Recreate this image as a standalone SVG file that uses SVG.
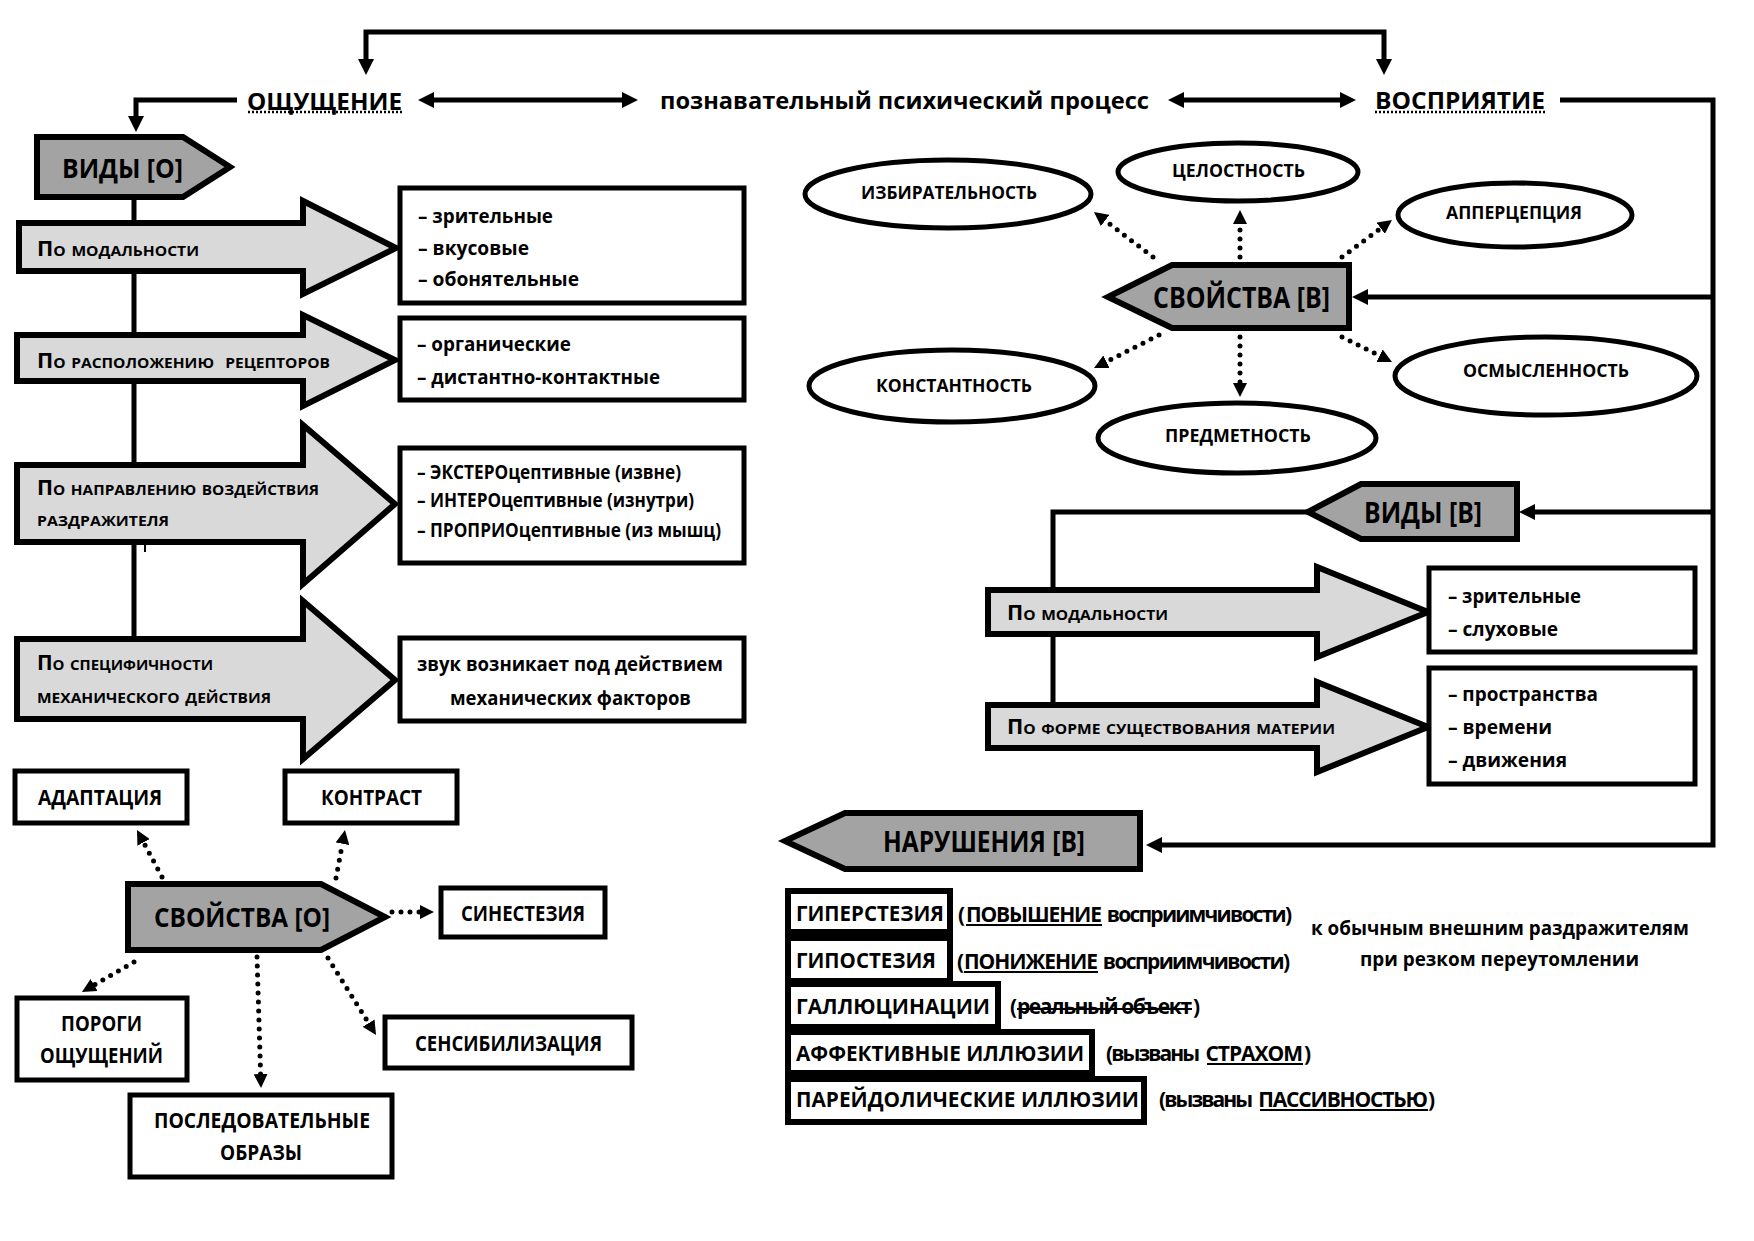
<svg xmlns="http://www.w3.org/2000/svg" width="1754" height="1241" viewBox="0 0 1754 1241">
<style>
.t{font-family:'Open Sans','Liberation Sans',sans-serif;font-weight:700;fill:#000;dominant-baseline:central}
.sc{font-variant:small-caps}
.box{fill:#fff;stroke:#000;stroke-width:5}
.box6{fill:#fff;stroke:#000;stroke-width:6}
.pent{fill:#a3a3a3;stroke:#000;stroke-width:6}
.barrow{fill:#d9d9d9;stroke:#000;stroke-width:6}
.ell{fill:#fff;stroke:#000;stroke-width:5}
.ln{fill:none;stroke:#000;stroke-width:5}
.dot{fill:none;stroke:#000;stroke-width:5;stroke-dasharray:0 9;stroke-linecap:round}
.ul{stroke:#000;stroke-width:2}
.dul{stroke:#000;stroke-width:2.5;stroke-dasharray:2 2}
</style>
<defs>
<marker id="ah" viewBox="0 0 16 16" refX="4" refY="8" markerWidth="16" markerHeight="16" markerUnits="userSpaceOnUse" orient="auto-start-reverse"><path d="M0,0 L16,8 L0,16 z" fill="#000"/></marker>
<marker id="dh" viewBox="0 0 14 14" refX="0" refY="7" markerWidth="14" markerHeight="14" markerUnits="userSpaceOnUse" orient="auto"><path d="M0,0 L14,7 L0,14 z" fill="#000"/></marker>
</defs>
<rect width="1754" height="1241" fill="#fff"/>

<g id="connectors">
<path class="ln" d="M366,63 V32 H1384 V63" marker-start="url(#ah)" marker-end="url(#ah)"/>
<path class="ln" d="M237,100 H136 V120" marker-end="url(#ah)"/>
<path class="ln" d="M430,100 H626" marker-start="url(#ah)" marker-end="url(#ah)"/>
<path class="ln" d="M1180,100 H1344" marker-start="url(#ah)" marker-end="url(#ah)"/>
<path class="ln" d="M1560,100 H1713 V845 H1158" marker-end="url(#ah)"/>
<path class="ln" d="M1713,297 H1364" marker-end="url(#ah)"/>
<path class="ln" d="M1713,512 H1531" marker-end="url(#ah)"/>
<path class="ln" d="M1308,512 H1053 V705"/>
<path class="ln" d="M134,198 V639"/>
<line x1="145" y1="543" x2="145" y2="552" stroke="#000" stroke-width="2"/>
<path class="dot" d="M162,877 L143.6,842.4" marker-end="url(#dh)"/>
<path class="dot" d="M336,878 L342.4,843.8" marker-end="url(#dh)"/>
<path class="dot" d="M392,912 L420,912" marker-end="url(#dh)"/>
<path class="dot" d="M134,962 L94.1,985" marker-end="url(#dh)"/>
<path class="dot" d="M257,957 L260.6,1074" marker-end="url(#dh)"/>
<path class="dot" d="M328,958 L368.6,1023.1" marker-end="url(#dh)"/>
<path class="dot" d="M1153,257 L1105.1,220.5" marker-end="url(#dh)"/>
<path class="dot" d="M1240,257 L1240,224" marker-end="url(#dh)"/>
<path class="dot" d="M1342,257 L1380.7,228.3" marker-end="url(#dh)"/>
<path class="dot" d="M1159,335 L1106.5,361.7" marker-end="url(#dh)"/>
<path class="dot" d="M1240,337 L1240,383" marker-end="url(#dh)"/>
<path class="dot" d="M1342,337 L1379.5,355.7" marker-end="url(#dh)"/>
</g>

<g id="oshchushchenie">
<text class="t" x="247" y="100" font-size="24" textLength="155" lengthAdjust="spacingAndGlyphs">ОЩУЩЕНИЕ</text>
<line class="dul" x1="248" y1="112" x2="402" y2="112"/>
</g>
<g id="process">
<text class="t" x="660" y="99" font-size="24" textLength="489" lengthAdjust="spacingAndGlyphs">познавательный психический процесс</text>
</g>
<g id="vospriyatie">
<text class="t" x="1375" y="99" font-size="24" textLength="170" lengthAdjust="spacingAndGlyphs">ВОСПРИЯТИЕ</text>
<line class="dul" x1="1375" y1="112" x2="1545" y2="112"/>
</g>

<g id="vidy-o">
<polygon class="pent" points="37,137 183,137 230,167 183,197 37,197"/>
<text class="t" x="62" y="168" font-size="26" textLength="121" lengthAdjust="spacingAndGlyphs">ВИДЫ [О]</text>
</g>

<g id="arrow-l1">
<polygon class="barrow" points="19,223 303,223 303,201 396,248 303,294 303,271 19,271"/>
<text class="t sc" x="37" y="248" font-size="21" textLength="162" lengthAdjust="spacingAndGlyphs">По модальности</text>
</g>
<g id="box-l1">
<rect class="box" x="400" y="188" width="344" height="115"/>
<text class="t" x="418" y="215" font-size="20" textLength="135" lengthAdjust="spacingAndGlyphs">– зрительные</text>
<text class="t" x="418" y="247" font-size="20" textLength="111" lengthAdjust="spacingAndGlyphs">– вкусовые</text>
<text class="t" x="418" y="278" font-size="20" textLength="161" lengthAdjust="spacingAndGlyphs">– обонятельные</text>
</g>

<g id="arrow-l2">
<polygon class="barrow" points="17,335 303,335 303,315 395,360 303,406 303,381 17,381"/>
<text class="t sc" x="37" y="360" font-size="21" textLength="293" lengthAdjust="spacingAndGlyphs" xml:space="preserve">По расположению  рецепторов</text>
</g>
<g id="box-l2">
<rect class="box" x="400" y="318" width="344" height="82"/>
<text class="t" x="417" y="343" font-size="20" textLength="154" lengthAdjust="spacingAndGlyphs">– органические</text>
<text class="t" x="417" y="376" font-size="20" textLength="243" lengthAdjust="spacingAndGlyphs">– дистантно-контактные</text>
</g>

<g id="arrow-l3">
<polygon class="barrow" points="17,465 303,465 303,425 395,504 303,584 303,542 17,542"/>
<text class="t sc" x="37" y="487" font-size="21" textLength="282" lengthAdjust="spacingAndGlyphs">По направлению воздействия</text>
<text class="t sc" x="37" y="518" font-size="21" textLength="132" lengthAdjust="spacingAndGlyphs">раздражителя</text>
</g>
<g id="box-l3">
<rect class="box" x="400" y="448" width="344" height="115"/>
<text class="t" x="417" y="472" font-size="19" textLength="264" lengthAdjust="spacingAndGlyphs">– ЭКСТЕРОцептивные (извне)</text>
<text class="t" x="417" y="500" font-size="19" textLength="277" lengthAdjust="spacingAndGlyphs">– ИНТЕРОцептивные (изнутри)</text>
<text class="t" x="417" y="530" font-size="19" textLength="304" lengthAdjust="spacingAndGlyphs">– ПРОПРИОцептивные (из мышц)</text>
</g>

<g id="arrow-l4">
<polygon class="barrow" points="17,639 303,639 303,601 395,680 303,759 303,719 17,719"/>
<text class="t sc" x="37" y="662" font-size="21" textLength="176" lengthAdjust="spacingAndGlyphs">По специфичности</text>
<text class="t sc" x="37" y="695" font-size="21" textLength="234" lengthAdjust="spacingAndGlyphs">механического действия</text>
</g>
<g id="box-l4">
<rect class="box" x="400" y="638" width="344" height="83"/>
<text class="t" x="417" y="663" font-size="20" textLength="306" lengthAdjust="spacingAndGlyphs">звук возникает под действием</text>
<text class="t" x="450" y="697" font-size="20" textLength="241" lengthAdjust="spacingAndGlyphs">механических факторов</text>
</g>

<g id="adaptaciya">
<rect class="box" x="15" y="771" width="172" height="52"/>
<text class="t" x="38" y="797" font-size="21" textLength="124" lengthAdjust="spacingAndGlyphs">АДАПТАЦИЯ</text>
</g>
<g id="kontrast">
<rect class="box" x="285" y="771" width="172" height="52"/>
<text class="t" x="321" y="797" font-size="21" textLength="101" lengthAdjust="spacingAndGlyphs">КОНТРАСТ</text>
</g>
<g id="svoistva-o">
<polygon class="pent" points="128,884 321,884 385,917 321,950 128,950"/>
<text class="t" x="154" y="917" font-size="26" textLength="176" lengthAdjust="spacingAndGlyphs">СВОЙСТВА [О]</text>
</g>
<g id="sinesteziya">
<rect class="box" x="441" y="888" width="164" height="49"/>
<text class="t" x="461" y="913" font-size="21" textLength="124" lengthAdjust="spacingAndGlyphs">СИНЕСТЕЗИЯ</text>
</g>
<g id="porogi">
<rect class="box" x="17" y="998" width="170" height="82"/>
<text class="t" x="61" y="1023" font-size="21" textLength="81" lengthAdjust="spacingAndGlyphs">ПОРОГИ</text>
<text class="t" x="40" y="1055" font-size="21" textLength="123" lengthAdjust="spacingAndGlyphs">ОЩУЩЕНИЙ</text>
</g>
<g id="posledovatelnye">
<rect class="box" x="130" y="1095" width="262" height="82"/>
<text class="t" x="154" y="1120" font-size="21" textLength="216" lengthAdjust="spacingAndGlyphs">ПОСЛЕДОВАТЕЛЬНЫЕ</text>
<text class="t" x="220" y="1152" font-size="21" textLength="82" lengthAdjust="spacingAndGlyphs">ОБРАЗЫ</text>
</g>
<g id="sensibilizaciya">
<rect class="box" x="385" y="1017" width="247" height="51"/>
<text class="t" x="415" y="1043" font-size="21" textLength="187" lengthAdjust="spacingAndGlyphs">СЕНСИБИЛИЗАЦИЯ</text>
</g>

<g id="svoistva-v">
<polygon class="pent" points="1108,297 1172,265 1349,265 1349,328 1172,328"/>
<text class="t" x="1153" y="296" font-size="29" textLength="177" lengthAdjust="spacingAndGlyphs">СВОЙСТВА [В]</text>
</g>
<g id="izbiratelnost">
<ellipse class="ell" cx="948" cy="194" rx="143" ry="34"/>
<text class="t" x="861" y="192" font-size="18" textLength="176" lengthAdjust="spacingAndGlyphs">ИЗБИРАТЕЛЬНОСТЬ</text>
</g>
<g id="celostnost">
<ellipse class="ell" cx="1238" cy="172" rx="120" ry="29"/>
<text class="t" x="1172" y="170" font-size="18" textLength="133" lengthAdjust="spacingAndGlyphs">ЦЕЛОСТНОСТЬ</text>
</g>
<g id="apercepciya">
<ellipse class="ell" cx="1515" cy="215" rx="117" ry="32"/>
<text class="t" x="1446" y="212" font-size="18" textLength="136" lengthAdjust="spacingAndGlyphs">АППЕРЦЕПЦИЯ</text>
</g>
<g id="konstantnost">
<ellipse class="ell" cx="952" cy="386" rx="143" ry="36"/>
<text class="t" x="876" y="385" font-size="18" textLength="156" lengthAdjust="spacingAndGlyphs">КОНСТАНТНОСТЬ</text>
</g>
<g id="predmetnost">
<ellipse class="ell" cx="1237" cy="438" rx="139" ry="35"/>
<text class="t" x="1165" y="435" font-size="18" textLength="146" lengthAdjust="spacingAndGlyphs">ПРЕДМЕТНОСТЬ</text>
</g>
<g id="osmyslennost">
<ellipse class="ell" cx="1546" cy="376" rx="151" ry="39"/>
<text class="t" x="1463" y="370" font-size="18" textLength="166" lengthAdjust="spacingAndGlyphs">ОСМЫСЛЕННОСТЬ</text>
</g>

<g id="vidy-v">
<polygon class="pent" points="1308,512 1361,484 1517,484 1517,539 1361,539"/>
<text class="t" x="1364" y="512" font-size="28" textLength="118" lengthAdjust="spacingAndGlyphs">ВИДЫ [В]</text>
</g>
<g id="arrow-r1">
<polygon class="barrow" points="988,590 1317,590 1317,567 1428,612 1317,657 1317,634 988,634"/>
<text class="t sc" x="1007" y="612" font-size="21" textLength="161" lengthAdjust="spacingAndGlyphs">По модальности</text>
</g>
<g id="box-r1">
<rect class="box" x="1429" y="568" width="266" height="84"/>
<text class="t" x="1448" y="595" font-size="20" textLength="133" lengthAdjust="spacingAndGlyphs">– зрительные</text>
<text class="t" x="1448" y="628" font-size="20" textLength="110" lengthAdjust="spacingAndGlyphs">– слуховые</text>
</g>
<g id="arrow-r2">
<polygon class="barrow" points="988,705 1317,705 1317,682 1428,727 1317,772 1317,748 988,748"/>
<text class="t sc" x="1007" y="726" font-size="21" textLength="328" lengthAdjust="spacingAndGlyphs">По форме существования материи</text>
</g>
<g id="box-r2">
<rect class="box" x="1429" y="668" width="266" height="116"/>
<text class="t" x="1448" y="693" font-size="20" textLength="150" lengthAdjust="spacingAndGlyphs">– пространства</text>
<text class="t" x="1448" y="726" font-size="20" textLength="104" lengthAdjust="spacingAndGlyphs">– времени</text>
<text class="t" x="1448" y="759" font-size="20" textLength="119" lengthAdjust="spacingAndGlyphs">– движения</text>
</g>

<g id="narusheniya-v">
<polygon class="pent" points="785,841 845,813 1140,813 1140,869 845,869"/>
<text class="t" x="883" y="841" font-size="28" textLength="202" lengthAdjust="spacingAndGlyphs">НАРУШЕНИЯ [В]</text>
</g>

<g id="giperesteziya">
<rect class="box6" x="788" y="891" width="162" height="41"/>
<text class="t" x="796" y="913" font-size="21" textLength="148" lengthAdjust="spacingAndGlyphs">ГИПЕРСТЕЗИЯ</text>
<text class="t" y="914" font-size="21" lengthAdjust="spacingAndGlyphs"><tspan x="958" textLength="7">(</tspan><tspan x="966" textLength="136">ПОВЫШЕНИЕ</tspan><tspan x="1103" textLength="189"> восприимчивости)</tspan></text>
<line class="ul" x1="966" y1="925" x2="1102" y2="925"/>
</g>
<g id="gipesteziya">
<rect class="box6" x="788" y="938" width="162" height="43"/>
<text class="t" x="796" y="960" font-size="21" textLength="140" lengthAdjust="spacingAndGlyphs">ГИПОСТЕЗИЯ</text>
<text class="t" y="961" font-size="21" lengthAdjust="spacingAndGlyphs"><tspan x="957" textLength="7">(</tspan><tspan x="964" textLength="134">ПОНИЖЕНИЕ</tspan><tspan x="1099" textLength="191"> восприимчивости)</tspan></text>
<line class="ul" x1="964" y1="972" x2="1098" y2="972"/>
</g>
<g id="gallyucinacii">
<rect class="box6" x="788" y="984" width="210" height="43"/>
<text class="t" x="796" y="1006" font-size="21" textLength="194" lengthAdjust="spacingAndGlyphs">ГАЛЛЮЦИНАЦИИ</text>
<text class="t" y="1006" font-size="21" lengthAdjust="spacingAndGlyphs"><tspan x="1010" textLength="6">(</tspan><tspan x="1017" textLength="175">реальный объект</tspan><tspan x="1193" textLength="6">)</tspan></text>
<line class="ul" x1="1017" y1="1009" x2="1192" y2="1009"/>
</g>
<g id="affektivnye">
<rect class="box6" x="788" y="1032" width="304" height="41"/>
<text class="t" x="796" y="1053" font-size="21" textLength="288" lengthAdjust="spacingAndGlyphs">АФФЕКТИВНЫЕ ИЛЛЮЗИИ</text>
<text class="t" y="1053" font-size="21" lengthAdjust="spacingAndGlyphs"><tspan x="1106" textLength="94">(вызваны</tspan><tspan x="1201" textLength="102"> СТРАХОМ</tspan><tspan x="1304" textLength="6">)</tspan></text>
<line class="ul" x1="1207" y1="1064" x2="1303" y2="1064"/>
</g>
<g id="pareidolicheskie">
<rect class="box6" x="788" y="1079" width="356" height="43"/>
<text class="t" x="796" y="1099" font-size="21" textLength="343" lengthAdjust="spacingAndGlyphs">ПАРЕЙДОЛИЧЕСКИЕ ИЛЛЮЗИИ</text>
<text class="t" y="1099" font-size="21" lengthAdjust="spacingAndGlyphs"><tspan x="1159" textLength="94">(вызваны</tspan><tspan x="1254" textLength="174"> ПАССИВНОСТЬЮ</tspan><tspan x="1428" textLength="6">)</tspan></text>
<line class="ul" x1="1260" y1="1110" x2="1428" y2="1110"/>
</g>
<g id="note">
<text class="t" x="1311" y="927" font-size="20" textLength="378" lengthAdjust="spacingAndGlyphs">к обычным внешним раздражителям</text>
<text class="t" x="1360" y="958" font-size="20" textLength="279" lengthAdjust="spacingAndGlyphs">при резком переутомлении</text>
</g>
</svg>
